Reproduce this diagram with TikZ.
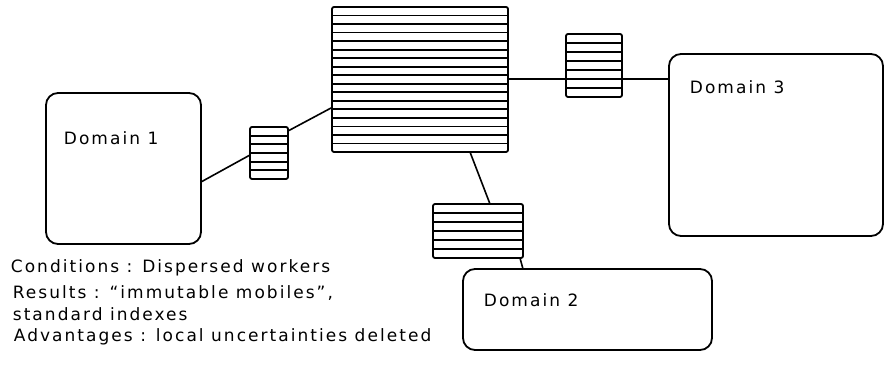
\documentclass[tikz,border=0pt]{standalone}
\usepackage{fontspec}
\setmainfont{DejaVu Sans}[LetterSpace=12]
\usetikzlibrary{calc}

% horizontal rules inside a striped box: #1 node name, #2 number of stripes
\newcommand\stripelines[2]{%
  \pgfmathtruncatemacro\lastk{#2-1}%
  \foreach \k in {1,...,\lastk}{%
    \draw ($(#1.north west)!\k/#2!(#1.south west)$) -- ($(#1.north east)!\k/#2!(#1.south east)$);}%
}

\begin{document}
\begin{tikzpicture}[x=1pt,y=-1pt,
  line width=1.8pt,
  domainbox/.style={draw, rounded corners=12pt, inner sep=0pt, outer sep=0pt},
  stripebox/.style={draw, rounded corners=2pt, inner sep=0pt, outer sep=0pt},
  lbl/.style={anchor=west, inner sep=0pt, font=\fontsize{17}{20}\selectfont},
  wire/.style={line width=1.6pt}]
\useasboundingbox (0,0) rectangle (884,379);

% domains
\node[domainbox, minimum width=155pt, minimum height=151pt] (d1) at (123.5,168.5) {};
\node[domainbox, minimum width=214pt, minimum height=182pt] (d3) at (776,145) {};
\node[domainbox, minimum width=249pt, minimum height=81pt] (d2) at (587.5,309.5) {};

\node[lbl] (d1lab) at (63,138) {Domain 1};
\node[lbl] (d3lab) at (689,87) {Domain 3};
\node[lbl] (d2lab) at (483,300) {Domain 2};

% striped boxes
\node[stripebox, minimum width=38pt, minimum height=52pt] (sa) at (269,153) {};
\node[stripebox, minimum width=176pt, minimum height=145pt] (big) at (420,79.5) {};
\node[stripebox, minimum width=56pt, minimum height=63pt] (sc) at (594,65.5) {};
\node[stripebox, minimum width=90pt, minimum height=54pt] (sb) at (478,231) {};
\stripelines{sa}{6}
\stripelines{big}{17}
\stripelines{sc}{7}
\stripelines{sb}{6}

% connectors
\draw[wire] ([yshift=-13.5pt]d1.east) -- ([yshift=-2pt]sa.west);
\draw[wire] ([yshift=-4pt]sa.north east) -- ([yshift=-28pt]big.west);
\draw[wire] ([yshift=-13.5pt]sc.west -| big.east) -- ([yshift=-13.5pt]sc.west);
\draw[wire] ([yshift=-13.5pt]sc.east) -- ([yshift=-13.5pt]sc.east -| d3.west);
\draw[wire] ([xshift=50pt]big.south) -- ([xshift=12pt]sb.north);
\draw[wire] ([xshift=-3pt]sb.south east) -- (sb.south east |- d2.north);

% notes
\node[lbl] (cond) at (10,268) {Conditions : Dispersed workers};
\node[lbl] (res) at (12,293) {Results : ``immutable mobiles'',};
\node[lbl] (std) at (12,314) {standard indexes};
\node[lbl] (adv) at (13,337) {Advantages : local uncertainties deleted};
\end{tikzpicture}
\end{document}
